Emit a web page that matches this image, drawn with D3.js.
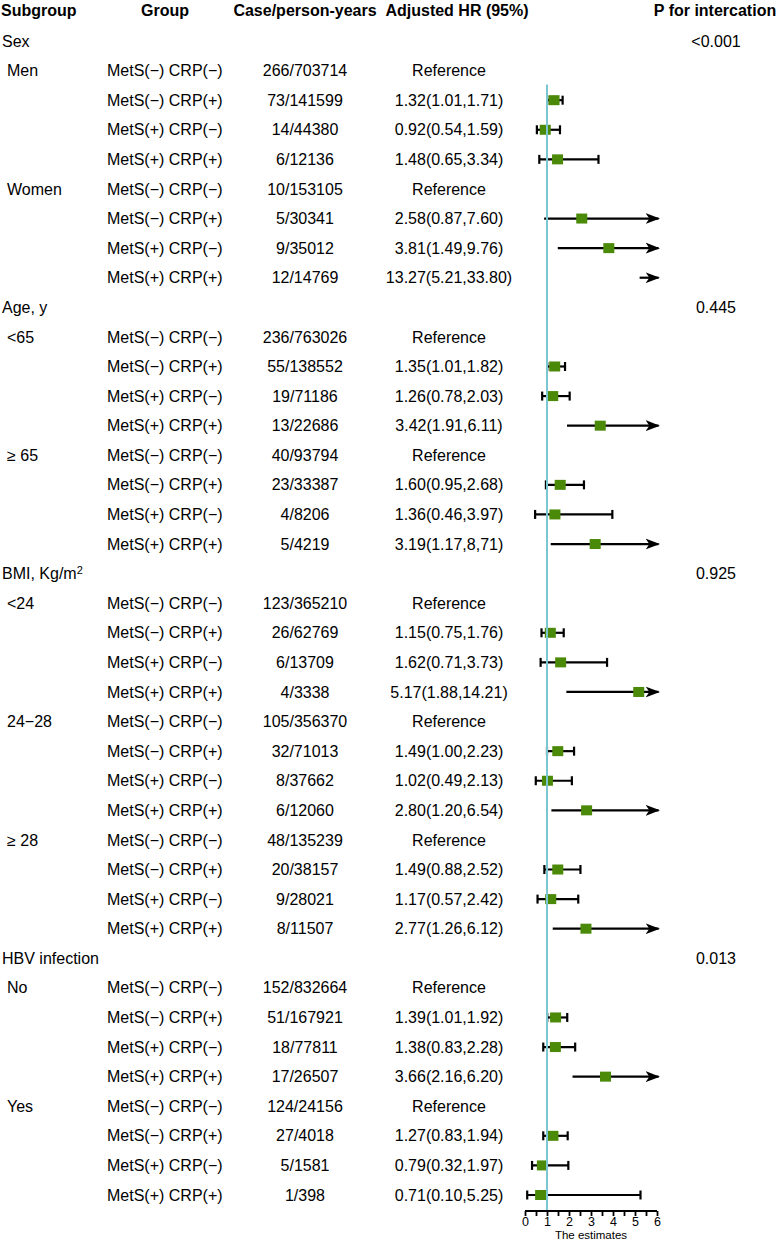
<!DOCTYPE html>
<html>
<head>
<meta charset="utf-8">
<script src="https://cdn.jsdelivr.net/npm/d3@7"></script>
<style>
  html, body { margin: 0; padding: 0; background: #fff; }
  svg { display: block; font-family: "Liberation Sans", Arial, sans-serif; }
</style>
</head>
<body>
<svg id="chart" width="780" height="1242"></svg>
<script>
// ---------------- DATA ----------------
const headers = ["Subgroup", "Group", "Case/person-years", "Adjusted HR (95%)", "P for intercation"];
const sections = ["Sex", "Age, y", "BMI, Kg/m", "HBV infection"];
const sectionSup = ["", "", "2", ""];
const pValues = ["<0.001", "0.445", "0.925", "0.013"];
const subgroups = [["Men", "Women"], ["<65", "\u2265 65"], ["<24", "24\u221228", "\u2265 28"], ["No", "Yes"]];
const groups = ["MetS(\u2212) CRP(\u2212)", "MetS(\u2212) CRP(+)", "MetS(+) CRP(\u2212)", "MetS(+) CRP(+)"];
const cases = [
  "266/703714", "73/141599", "14/44380", "6/12136",
  "10/153105", "5/30341", "9/35012", "12/14769",
  "236/763026", "55/138552", "19/71186", "13/22686",
  "40/93794", "23/33387", "4/8206", "5/4219",
  "123/365210", "26/62769", "6/13709", "4/3338",
  "105/356370", "32/71013", "8/37662", "6/12060",
  "48/135239", "20/38157", "9/28021", "8/11507",
  "152/832664", "51/167921", "18/77811", "17/26507",
  "124/24156", "27/4018", "5/1581", "1/398"
];
const hrLabels = [
  "Reference", "1.32(1.01,1.71)", "0.92(0.54,1.59)", "1.48(0.65,3.34)",
  "Reference", "2.58(0.87,7.60)", "3.81(1.49,9.76)", "13.27(5.21,33.80)",
  "Reference", "1.35(1.01,1.82)", "1.26(0.78,2.03)", "3.42(1.91,6.11)",
  "Reference", "1.60(0.95,2.68)", "1.36(0.46,3.97)", "3.19(1.17,8,71)",
  "Reference", "1.15(0.75,1.76)", "1.62(0.71,3.73)", "5.17(1.88,14.21)",
  "Reference", "1.49(1.00,2.23)", "1.02(0.49,2.13)", "2.80(1.20,6.54)",
  "Reference", "1.49(0.88,2.52)", "1.17(0.57,2.42)", "2.77(1.26,6.12)",
  "Reference", "1.39(1.01,1.92)", "1.38(0.83,2.28)", "3.66(2.16,6.20)",
  "Reference", "1.27(0.83,1.94)", "0.79(0.32,1.97)", "0.71(0.10,5.25)"
];
const hrEst = [
  null, 1.32, 0.92, 1.48,  null, 2.58, 3.81, 13.27,
  null, 1.35, 1.26, 3.42,  null, 1.60, 1.36, 3.19,
  null, 1.15, 1.62, 5.17,  null, 1.49, 1.02, 2.80,  null, 1.49, 1.17, 2.77,
  null, 1.39, 1.38, 3.66,  null, 1.27, 0.79, 0.71
];
const hrLow = [
  null, 1.01, 0.54, 0.65,  null, 0.87, 1.49, 5.21,
  null, 1.01, 0.78, 1.91,  null, 0.95, 0.46, 1.17,
  null, 0.75, 0.71, 1.88,  null, 1.00, 0.49, 1.20,  null, 0.88, 0.57, 1.26,
  null, 1.01, 0.83, 2.16,  null, 0.83, 0.32, 0.10
];
const hrHigh = [
  null, 1.71, 1.59, 3.34,  null, 7.60, 9.76, 33.80,
  null, 1.82, 2.03, 6.11,  null, 2.68, 3.97, 8.71,
  null, 1.76, 3.73, 14.21, null, 2.23, 2.13, 6.54,  null, 2.52, 2.42, 6.12,
  null, 1.92, 2.28, 6.20,  null, 1.94, 1.97, 5.25
];
const xTicks = [0, 0.5, 1, 1.5, 2, 2.5, 3, 3.5, 4, 4.5, 5, 5.5, 6];
const xTickLabels = [0, 1, 2, 3, 4, 5, 6];
const xDomain = [0, 6];
const refValue = 1;
const axisTitle = "The estimates";

// ---------------- BUILD ROWS ----------------
const rows = [];
let k = 0;
sections.forEach((s, si) => {
  rows.push({type: "section", label: s, sup: sectionSup[si], p: pValues[si]});
  subgroups[si].forEach(sub => {
    groups.forEach((g, gi) => {
      rows.push({type: "data", sub: gi === 0 ? sub : "", group: g,
        cases: cases[k], hr: hrLabels[k], est: hrEst[k], lo: hrLow[k], hi: hrHigh[k]});
      k++;
    });
  });
});

// ---------------- LAYOUT ----------------
const svg = d3.select("#chart");
const fontBody = 16;
const fontHead = 16;
const y = d3.scaleLinear().domain([0, rows.length - 1]).range([41, 1195]);
const x = d3.scaleLinear().domain(xDomain).range([525, 657]);
const axisY = 1211;
const col = {sub: 2, subIndent: 7, group: 107, cases: 305, hr: 449, p: 716};
const green = "#4a8a08";
const refColor = "#7cc6d2";

// headers
const hx = [{x: 1, a: "start"}, {x: 165, a: "middle"}, {x: 305, a: "middle"}, {x: 457, a: "middle"}, {x: 715, a: "middle"}];
svg.append("g").selectAll("text").data(headers).join("text")
  .attr("x", (d, i) => hx[i].x).attr("y", 10).attr("dy", "0.35em")
  .attr("text-anchor", (d, i) => hx[i].a)
  .attr("font-weight", "bold").attr("font-size", fontHead).attr("fill", "#000")
  .text(d => d);

const rowG = svg.append("g").selectAll("g").data(rows).join("g")
  .attr("transform", (d, i) => `translate(0,${y(i)})`);

// section rows
const sec = rowG.filter(d => d.type === "section");
const secText = sec.append("text").attr("x", col.sub).attr("dy", "0.35em")
  .attr("font-size", fontBody).text(d => d.label);
secText.filter(d => d.sup).append("tspan").attr("dy", "-0.45em").attr("font-size", 11).text(d => d.sup);
sec.append("text").attr("x", col.p).attr("dy", "0.35em").attr("text-anchor", "middle")
  .attr("font-size", fontBody).text(d => d.p);

// data rows text
const dat = rowG.filter(d => d.type === "data");
dat.append("text").attr("x", col.subIndent).attr("dy", "0.35em").attr("font-size", fontBody).text(d => d.sub);
dat.append("text").attr("x", col.group).attr("dy", "0.35em").attr("font-size", fontBody).text(d => d.group);
dat.append("text").attr("x", col.cases).attr("dy", "0.35em").attr("text-anchor", "middle").attr("font-size", fontBody).text(d => d.cases);
dat.append("text").attr("x", col.hr).attr("dy", "0.35em").attr("text-anchor", "middle").attr("font-size", fontBody).text(d => d.hr);

// reference line
svg.append("line")
  .attr("x1", x(refValue)).attr("x2", x(refValue))
  .attr("y1", (y(1) + y(2)) / 2 - 1).attr("y2", axisY)
  .attr("stroke", refColor).attr("stroke-width", 2);

// arrow marker
svg.append("defs").append("marker")
  .attr("id", "arrow").attr("viewBox", "0 0 10 10").attr("refX", 9).attr("refY", 5)
  .attr("markerWidth", 6.5).attr("markerHeight", 6.5).attr("markerUnits", "strokeWidth")
  .attr("orient", "auto")
  .append("path").attr("d", "M0,1.2 L10,5 L0,8.8 L2.6,5 Z").attr("fill", "#000");

// CI
const ci = dat.filter(d => d.est !== null);
const xMax = xDomain[1];
ci.append("line")
  .attr("x1", d => x(Math.max(d.lo, xDomain[0])))
  .attr("x2", d => d.hi > xMax ? x(xMax) + 1.5 : x(d.hi))
  .attr("y1", 0).attr("y2", 0)
  .attr("stroke", "#000").attr("stroke-width", 2.2)
  .attr("marker-end", d => d.hi > xMax ? "url(#arrow)" : null);
// caps for closed intervals
const closed = ci.filter(d => d.hi <= xMax);
closed.append("line").attr("x1", d => x(d.lo)).attr("x2", d => x(d.lo)).attr("y1", -4.5).attr("y2", 4.5)
  .attr("stroke", "#000").attr("stroke-width", 2.2);
closed.append("line").attr("x1", d => x(d.hi)).attr("x2", d => x(d.hi)).attr("y1", -4.5).attr("y2", 4.5)
  .attr("stroke", "#000").attr("stroke-width", 2.2);
// boxes
ci.filter(d => d.est <= xMax).append("rect")
  .attr("x", d => x(d.est) - 5.5).attr("y", -5).attr("width", 11).attr("height", 10)
  .attr("fill", green);

// axis
const axis = d3.axisBottom(x).tickValues(xTicks).tickSize(5)
  .tickFormat(d => xTickLabels.includes(d) ? d3.format("d")(d) : "");
const ax = svg.append("g").attr("transform", `translate(0,${axisY})`).call(axis);
ax.select(".domain").attr("stroke", "#000").attr("stroke-width", 1.8).attr("d", `M${x(0)},0H${x(6)}`);
ax.selectAll(".tick line").attr("stroke", "#000").attr("stroke-width", 1.8);
ax.selectAll(".tick text").attr("font-size", 12.5).attr("font-family", "Liberation Sans, Arial, sans-serif").attr("fill", "#000").attr("y", 6.5);
svg.append("text").attr("x", (x(0) + x(6)) / 2).attr("y", 1235).attr("dy", "0.32em")
  .attr("text-anchor", "middle").attr("font-size", 11.5).text(axisTitle);
</script>
</body>
</html>
